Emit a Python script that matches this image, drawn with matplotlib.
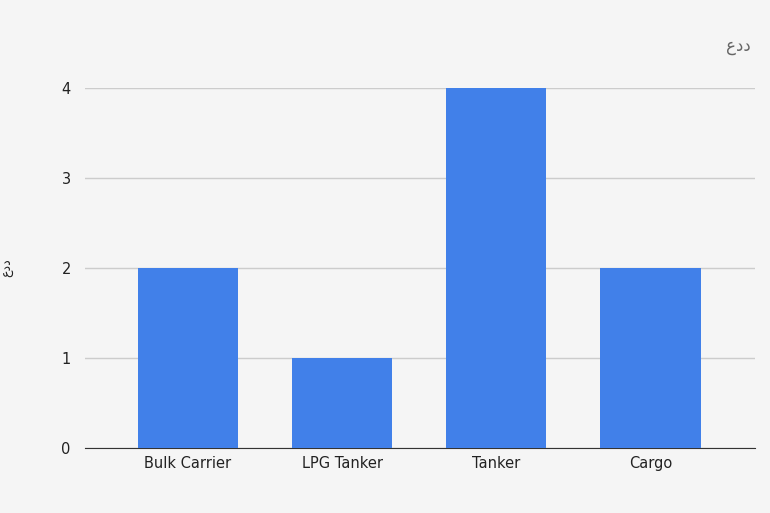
import matplotlib.pyplot as plt

categories = ["Bulk Carrier", "LPG Tanker", "Tanker", "Cargo"]
values = [2, 1, 4, 2]
yticks = [0, 1, 2, 3, 4]

plt.rcParams['font.family'] = ['DejaVu Sans']
fig = plt.figure(figsize=(7.7, 5.13), dpi=100, facecolor='#f5f5f5')
ax = fig.add_axes([0.110, 0.127, 0.871, 0.701], facecolor='#f5f5f5')
x = list(range(len(categories)))
ax.bar(x, values, width=0.65, color='#4180e9', zorder=3)
ax.set_xlim(-0.669, 3.68)
ax.set_ylim(0, 4)
ax.set_yticks(yticks)
ax.set_xticks(x)
ax.set_xticklabels(categories, fontsize=10.5, color='#222222')
ax.tick_params(axis='y', labelsize=10.5, colors='#222222', length=0, pad=10)
ax.tick_params(axis='x', length=0, pad=6)
ax.grid(axis='y', color='#cccccc', linewidth=1, zorder=0)
for s in ['top', 'right', 'left']:
    ax.spines[s].set_visible(False)
ax.spines['bottom'].set_color('#333333')
ax.set_ylabel('عدد', fontsize=9, color='#222222')
ax.yaxis.set_label_coords(-0.105, 0.5)
fig.text(0.975, 0.91, 'عدد', fontsize=12, color='#666666', ha='right', va='center')
fig.savefig('out.png', dpi=100, facecolor=fig.get_facecolor())
